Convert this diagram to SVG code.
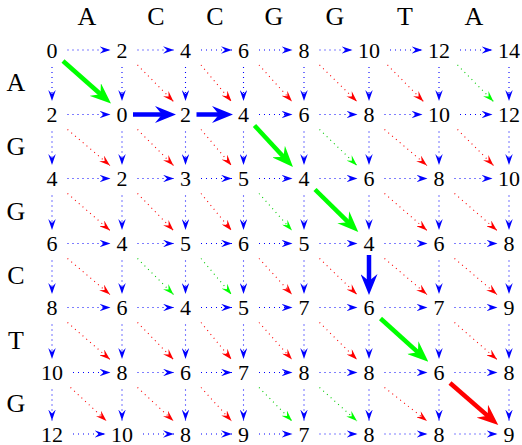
<svg xmlns="http://www.w3.org/2000/svg" width="522" height="445" viewBox="0 0 522 445">
<style>
.n{font-family:"Liberation Serif","Times New Roman",serif;font-size:22px;fill:#000;text-anchor:middle}
.l{font-family:"Liberation Serif","Times New Roman",serif;font-size:26px;fill:#000;text-anchor:middle}
line{fill:none}
.db{stroke:#00f;stroke-width:1.1;stroke-dasharray:1 4;marker-end:url(#hb)}
.dr{stroke:#f00;stroke-width:1.1;stroke-dasharray:1 4;marker-end:url(#hr)}
.dg{stroke:#0c0;stroke-width:1.1;stroke-dasharray:1 4;marker-end:url(#hg)}
.tb{stroke:#00f;stroke-width:4.5;marker-end:url(#Tb)}
.tg{stroke:#0f0;stroke-width:4.5;marker-end:url(#Tg)}
.tr{stroke:#f00;stroke-width:4.5;marker-end:url(#Tr)}
</style>
<defs>
<marker id="hb" viewBox="0 0 11 7.5" refX="11" refY="3.75" markerWidth="11" markerHeight="7.5" markerUnits="userSpaceOnUse" orient="auto"><path d="M0,0 L11,3.75 L0,7.5 L4,3.75 Z" fill="#00f"/></marker>
<marker id="hr" viewBox="0 0 11 7.5" refX="11" refY="3.75" markerWidth="11" markerHeight="7.5" markerUnits="userSpaceOnUse" orient="auto"><path d="M0,0 L11,3.75 L0,7.5 L4,3.75 Z" fill="#f00"/></marker>
<marker id="hg" viewBox="0 0 11 7.5" refX="11" refY="3.75" markerWidth="11" markerHeight="7.5" markerUnits="userSpaceOnUse" orient="auto"><path d="M0,0 L11,3.75 L0,7.5 L4,3.75 Z" fill="#0f0"/></marker>
<marker id="Tb" viewBox="0 0 21 17" refX="9" refY="8.5" markerWidth="21" markerHeight="17" markerUnits="userSpaceOnUse" orient="auto"><path d="M0,0 L21,8.5 L0,17 L7,8.5 Z" fill="#00f"/></marker>
<marker id="Tg" viewBox="0 0 21 17" refX="9" refY="8.5" markerWidth="21" markerHeight="17" markerUnits="userSpaceOnUse" orient="auto"><path d="M0,0 L21,8.5 L0,17 L7,8.5 Z" fill="#0f0"/></marker>
<marker id="Tr" viewBox="0 0 21 17" refX="9" refY="8.5" markerWidth="21" markerHeight="17" markerUnits="userSpaceOnUse" orient="auto"><path d="M0,0 L21,8.5 L0,17 L7,8.5 Z" fill="#f00"/></marker>
</defs>

<g id="labels">
<g id="col-labels">
<text class="l" x="87" y="25">A</text>
<text class="l" x="156" y="25">C</text>
<text class="l" x="215" y="25">C</text>
<text class="l" x="274" y="25">G</text>
<text class="l" x="335" y="25">G</text>
<text class="l" x="405" y="25">T</text>
<text class="l" x="474" y="25">A</text>
</g>
<g id="row-labels">
<text class="l" x="16" y="90.5">A</text>
<text class="l" x="16" y="155">G</text>
<text class="l" x="16" y="219.5">G</text>
<text class="l" x="16" y="284">C</text>
<text class="l" x="16" y="348.5">T</text>
<text class="l" x="16" y="412">G</text>
</g>
</g>

<g id="connectors">
<!-- horizontal -->
<line class="db" x1="67.5" y1="50" x2="110.5" y2="50"/>
<line class="db" x1="137.5" y1="50" x2="174" y2="50"/>
<line class="db" x1="201" y1="50" x2="232" y2="50"/>
<line class="db" x1="259" y1="50" x2="292.5" y2="50"/>
<line class="db" x1="319.5" y1="50" x2="352.5" y2="50"/>
<line class="db" x1="390" y1="50" x2="422.5" y2="50"/>
<line class="db" x1="460" y1="50" x2="492.5" y2="50"/>

<line class="db" x1="67.5" y1="114.5" x2="110.5" y2="114.5"/>
<line class="db" x1="259" y1="114.5" x2="292.5" y2="114.5"/>
<line class="db" x1="319.5" y1="114.5" x2="357.5" y2="114.5"/>
<line class="db" x1="384.5" y1="114.5" x2="422.5" y2="114.5"/>
<line class="db" x1="460" y1="114.5" x2="492.5" y2="114.5"/>

<line class="db" x1="67.5" y1="178.5" x2="110.5" y2="178.5"/>
<line class="db" x1="137.5" y1="178.5" x2="174" y2="178.5"/>
<line class="db" x1="201" y1="178.5" x2="232" y2="178.5"/>
<line class="db" x1="259" y1="178.5" x2="292.5" y2="178.5"/>
<line class="db" x1="319.5" y1="178.5" x2="357.5" y2="178.5"/>
<line class="db" x1="384.5" y1="178.5" x2="427.5" y2="178.5"/>
<line class="db" x1="454.5" y1="178.5" x2="492.5" y2="178.5"/>

<line class="db" x1="67.5" y1="243.5" x2="110.5" y2="243.5"/>
<line class="db" x1="137.5" y1="243.5" x2="174" y2="243.5"/>
<line class="db" x1="201" y1="243.5" x2="232" y2="243.5"/>
<line class="db" x1="259" y1="243.5" x2="292.5" y2="243.5"/>
<line class="db" x1="319.5" y1="243.5" x2="357.5" y2="243.5"/>
<line class="db" x1="384.5" y1="243.5" x2="427.5" y2="243.5"/>
<line class="db" x1="454.5" y1="243.5" x2="497.5" y2="243.5"/>

<line class="db" x1="67.5" y1="307.5" x2="110.5" y2="307.5"/>
<line class="db" x1="137.5" y1="307.5" x2="174" y2="307.5"/>
<line class="db" x1="201" y1="307.5" x2="232" y2="307.5"/>
<line class="db" x1="259" y1="307.5" x2="292.5" y2="307.5"/>
<line class="db" x1="319.5" y1="307.5" x2="357.5" y2="307.5"/>
<line class="db" x1="384.5" y1="307.5" x2="427.5" y2="307.5"/>
<line class="db" x1="454.5" y1="307.5" x2="497.5" y2="307.5"/>

<line class="db" x1="73" y1="372.5" x2="110.5" y2="372.5"/>
<line class="db" x1="137.5" y1="372.5" x2="174" y2="372.5"/>
<line class="db" x1="201" y1="372.5" x2="232" y2="372.5"/>
<line class="db" x1="259" y1="372.5" x2="292.5" y2="372.5"/>
<line class="db" x1="319.5" y1="372.5" x2="357.5" y2="372.5"/>
<line class="db" x1="384.5" y1="372.5" x2="427.5" y2="372.5"/>
<line class="db" x1="454.5" y1="372.5" x2="497.5" y2="372.5"/>

<line class="db" x1="73" y1="434" x2="105.5" y2="434"/>
<line class="db" x1="143" y1="434" x2="174" y2="434"/>
<line class="db" x1="201" y1="434" x2="232" y2="434"/>
<line class="db" x1="259" y1="434" x2="292.5" y2="434"/>
<line class="db" x1="319.5" y1="434" x2="357.5" y2="434"/>
<line class="db" x1="384.5" y1="434" x2="427.5" y2="434"/>
<line class="db" x1="454.5" y1="434" x2="497.5" y2="434"/>

<!-- vertical -->
<line class="db" x1="52" y1="67" x2="52" y2="101"/>
<line class="db" x1="122" y1="67" x2="122" y2="101"/>
<line class="db" x1="185.5" y1="67" x2="185.5" y2="101"/>
<line class="db" x1="243.5" y1="67" x2="243.5" y2="101"/>
<line class="db" x1="304" y1="67" x2="304" y2="101"/>
<line class="db" x1="369" y1="67" x2="369" y2="101"/>
<line class="db" x1="439" y1="67" x2="439" y2="101"/>
<line class="db" x1="509" y1="67" x2="509" y2="101"/>

<line class="db" x1="52" y1="131.5" x2="52" y2="165"/>
<line class="db" x1="122" y1="131.5" x2="122" y2="165"/>
<line class="db" x1="185.5" y1="131.5" x2="185.5" y2="165"/>
<line class="db" x1="243.5" y1="131.5" x2="243.5" y2="165"/>
<line class="db" x1="304" y1="131.5" x2="304" y2="165"/>
<line class="db" x1="369" y1="131.5" x2="369" y2="165"/>
<line class="db" x1="439" y1="131.5" x2="439" y2="165"/>
<line class="db" x1="509" y1="131.5" x2="509" y2="165"/>

<line class="db" x1="52" y1="195.5" x2="52" y2="230"/>
<line class="db" x1="122" y1="195.5" x2="122" y2="230"/>
<line class="db" x1="185.5" y1="195.5" x2="185.5" y2="230"/>
<line class="db" x1="243.5" y1="195.5" x2="243.5" y2="230"/>
<line class="db" x1="304" y1="195.5" x2="304" y2="230"/>
<line class="db" x1="369" y1="195.5" x2="369" y2="230"/>
<line class="db" x1="439" y1="195.5" x2="439" y2="230"/>
<line class="db" x1="509" y1="195.5" x2="509" y2="230"/>

<line class="db" x1="52" y1="260.5" x2="52" y2="294"/>
<line class="db" x1="122" y1="260.5" x2="122" y2="294"/>
<line class="db" x1="185.5" y1="260.5" x2="185.5" y2="294"/>
<line class="db" x1="243.5" y1="260.5" x2="243.5" y2="294"/>
<line class="db" x1="304" y1="260.5" x2="304" y2="294"/>
<line class="db" x1="439" y1="260.5" x2="439" y2="294"/>
<line class="db" x1="509" y1="260.5" x2="509" y2="294"/>

<line class="db" x1="52" y1="324.5" x2="52" y2="359"/>
<line class="db" x1="122" y1="324.5" x2="122" y2="359"/>
<line class="db" x1="185.5" y1="324.5" x2="185.5" y2="359"/>
<line class="db" x1="243.5" y1="324.5" x2="243.5" y2="359"/>
<line class="db" x1="304" y1="324.5" x2="304" y2="359"/>
<line class="db" x1="369" y1="324.5" x2="369" y2="359"/>
<line class="db" x1="439" y1="324.5" x2="439" y2="359"/>
<line class="db" x1="509" y1="324.5" x2="509" y2="359"/>

<line class="db" x1="52" y1="389.5" x2="52" y2="420.5"/>
<line class="db" x1="122" y1="389.5" x2="122" y2="420.5"/>
<line class="db" x1="185.5" y1="389.5" x2="185.5" y2="420.5"/>
<line class="db" x1="243.5" y1="389.5" x2="243.5" y2="420.5"/>
<line class="db" x1="304" y1="389.5" x2="304" y2="420.5"/>
<line class="db" x1="369" y1="389.5" x2="369" y2="420.5"/>
<line class="db" x1="439" y1="389.5" x2="439" y2="420.5"/>
<line class="db" x1="509" y1="389.5" x2="509" y2="420.5"/>

<!-- diagonal -->
<line class="dr" x1="137.5" y1="65" x2="173.5" y2="101.5"/>
<line class="dr" x1="201" y1="65" x2="231.5" y2="101.5"/>
<line class="dr" x1="259" y1="65" x2="292" y2="101.5"/>
<line class="dr" x1="319.5" y1="65" x2="357" y2="101.5"/>
<line class="dr" x1="387.5" y1="65" x2="423.5" y2="101.5"/>
<line class="dg" x1="457.5" y1="65" x2="493.5" y2="101.5"/>

<line class="dr" x1="67.5" y1="129.5" x2="110" y2="165.5"/>
<line class="dr" x1="137.5" y1="129.5" x2="173.5" y2="165.5"/>
<line class="dr" x1="201" y1="129.5" x2="231.5" y2="165.5"/>
<line class="dg" x1="319.5" y1="129.5" x2="357" y2="165.5"/>
<line class="dr" x1="384.5" y1="129.5" x2="427" y2="165.5"/>
<line class="dr" x1="457.5" y1="129.5" x2="493.5" y2="165.5"/>

<line class="dr" x1="67.5" y1="193.5" x2="110" y2="230.5"/>
<line class="dr" x1="137.5" y1="193.5" x2="173.5" y2="230.5"/>
<line class="dr" x1="201" y1="193.5" x2="231.5" y2="230.5"/>
<line class="dg" x1="259" y1="193.5" x2="292" y2="230.5"/>
<line class="dr" x1="384.5" y1="193.5" x2="427" y2="230.5"/>
<line class="dr" x1="454.5" y1="193.5" x2="497" y2="230.5"/>

<line class="dr" x1="67.5" y1="258.5" x2="110" y2="294.5"/>
<line class="dg" x1="137.5" y1="258.5" x2="173.5" y2="294.5"/>
<line class="dg" x1="201" y1="258.5" x2="231.5" y2="294.5"/>
<line class="dr" x1="259" y1="258.5" x2="292" y2="294.5"/>
<line class="dr" x1="319.5" y1="258.5" x2="357" y2="294.5"/>
<line class="dr" x1="384.5" y1="258.5" x2="427" y2="294.5"/>
<line class="dr" x1="454.5" y1="258.5" x2="497" y2="294.5"/>

<line class="dr" x1="67.5" y1="322.5" x2="110" y2="359.5"/>
<line class="dr" x1="137.5" y1="322.5" x2="173.5" y2="359.5"/>
<line class="dr" x1="201" y1="322.5" x2="231.5" y2="359.5"/>
<line class="dr" x1="259" y1="322.5" x2="292" y2="359.5"/>
<line class="dr" x1="319.5" y1="322.5" x2="357" y2="359.5"/>
<line class="dr" x1="454.5" y1="322.5" x2="497" y2="359.5"/>

<line class="dr" x1="70.5" y1="387.5" x2="106.5" y2="421"/>
<line class="dr" x1="137.5" y1="387.5" x2="173.5" y2="421"/>
<line class="dr" x1="201" y1="387.5" x2="231.5" y2="421"/>
<line class="dg" x1="259" y1="387.5" x2="292" y2="421"/>
<line class="dg" x1="319.5" y1="387.5" x2="357" y2="421"/>
<line class="dr" x1="384.5" y1="387.5" x2="427" y2="421"/>

<!-- traceback path -->
<line class="tg" x1="63" y1="61" x2="102" y2="95.5"/>
<line class="tb" x1="133" y1="114.5" x2="164" y2="114.5"/>
<line class="tb" x1="196.5" y1="114.5" x2="221" y2="114.5"/>
<line class="tg" x1="254.5" y1="125.5" x2="284.8" y2="158.2"/>
<line class="tg" x1="315" y1="189.5" x2="349.7" y2="223.6"/>
<line class="tb" x1="369" y1="255" x2="369" y2="283"/>
<line class="tg" x1="380.5" y1="318.5" x2="419.4" y2="353.6"/>
<line class="tr" x1="450" y1="383" x2="489.2" y2="417.1"/>
</g>

<g id="nodes">
<g id="n0-0"><text class="n" x="52" y="57.5">0</text></g>
<g id="n0-1"><text class="n" x="122" y="57.5">2</text></g>
<g id="n0-2"><text class="n" x="185.5" y="57.5">4</text></g>
<g id="n0-3"><text class="n" x="243.5" y="57.5">6</text></g>
<g id="n0-4"><text class="n" x="304" y="57.5">8</text></g>
<g id="n0-5"><text class="n" x="369" y="57.5">10</text></g>
<g id="n0-6"><text class="n" x="439" y="57.5">12</text></g>
<g id="n0-7"><text class="n" x="509" y="57.5">14</text></g>

<g id="n1-0"><text class="n" x="52" y="122">2</text></g>
<g id="n1-1"><text class="n" x="122" y="122">0</text></g>
<g id="n1-2"><text class="n" x="185.5" y="122">2</text></g>
<g id="n1-3"><text class="n" x="243.5" y="122">4</text></g>
<g id="n1-4"><text class="n" x="304" y="122">6</text></g>
<g id="n1-5"><text class="n" x="369" y="122">8</text></g>
<g id="n1-6"><text class="n" x="439" y="122">10</text></g>
<g id="n1-7"><text class="n" x="509" y="122">12</text></g>

<g id="n2-0"><text class="n" x="52" y="186">4</text></g>
<g id="n2-1"><text class="n" x="122" y="186">2</text></g>
<g id="n2-2"><text class="n" x="185.5" y="186">3</text></g>
<g id="n2-3"><text class="n" x="243.5" y="186">5</text></g>
<g id="n2-4"><text class="n" x="304" y="186">4</text></g>
<g id="n2-5"><text class="n" x="369" y="186">6</text></g>
<g id="n2-6"><text class="n" x="439" y="186">8</text></g>
<g id="n2-7"><text class="n" x="509" y="186">10</text></g>

<g id="n3-0"><text class="n" x="52" y="251">6</text></g>
<g id="n3-1"><text class="n" x="122" y="251">4</text></g>
<g id="n3-2"><text class="n" x="185.5" y="251">5</text></g>
<g id="n3-3"><text class="n" x="243.5" y="251">6</text></g>
<g id="n3-4"><text class="n" x="304" y="251">5</text></g>
<g id="n3-5"><text class="n" x="369" y="251">4</text></g>
<g id="n3-6"><text class="n" x="439" y="251">6</text></g>
<g id="n3-7"><text class="n" x="509" y="251">8</text></g>

<g id="n4-0"><text class="n" x="52" y="315">8</text></g>
<g id="n4-1"><text class="n" x="122" y="315">6</text></g>
<g id="n4-2"><text class="n" x="185.5" y="315">4</text></g>
<g id="n4-3"><text class="n" x="243.5" y="315">5</text></g>
<g id="n4-4"><text class="n" x="304" y="315">7</text></g>
<g id="n4-5"><text class="n" x="369" y="315">6</text></g>
<g id="n4-6"><text class="n" x="439" y="315">7</text></g>
<g id="n4-7"><text class="n" x="509" y="315">9</text></g>

<g id="n5-0"><text class="n" x="52" y="380">10</text></g>
<g id="n5-1"><text class="n" x="122" y="380">8</text></g>
<g id="n5-2"><text class="n" x="185.5" y="380">6</text></g>
<g id="n5-3"><text class="n" x="243.5" y="380">7</text></g>
<g id="n5-4"><text class="n" x="304" y="380">8</text></g>
<g id="n5-5"><text class="n" x="369" y="380">8</text></g>
<g id="n5-6"><text class="n" x="439" y="380">6</text></g>
<g id="n5-7"><text class="n" x="509" y="380">8</text></g>

<g id="n6-0"><text class="n" x="52" y="441.5">12</text></g>
<g id="n6-1"><text class="n" x="122" y="441.5">10</text></g>
<g id="n6-2"><text class="n" x="185.5" y="441.5">8</text></g>
<g id="n6-3"><text class="n" x="243.5" y="441.5">9</text></g>
<g id="n6-4"><text class="n" x="304" y="441.5">7</text></g>
<g id="n6-5"><text class="n" x="369" y="441.5">8</text></g>
<g id="n6-6"><text class="n" x="439" y="441.5">8</text></g>
<g id="n6-7"><text class="n" x="509" y="441.5">9</text></g>
</g>
</svg>
